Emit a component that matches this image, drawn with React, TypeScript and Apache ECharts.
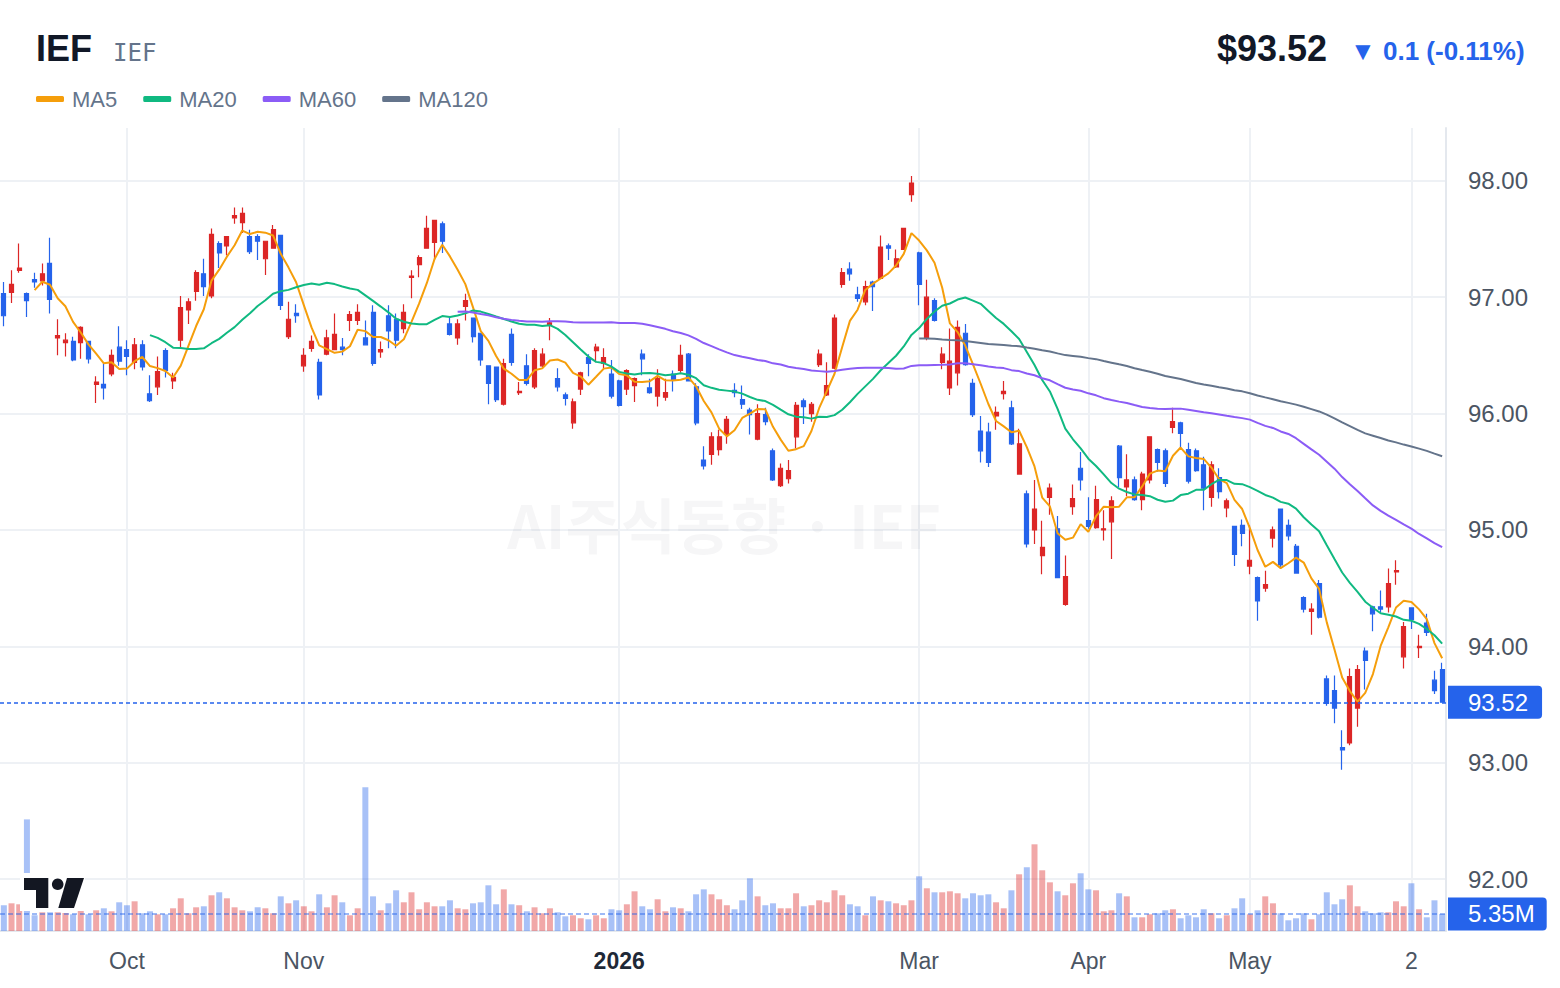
import { useEffect, useRef } from 'react';
import * as echarts from 'echarts';

// ---------- data ----------
const START_DATE = '2025-09-09';
const HOLIDAYS = ['2025-11-27', '2025-12-25', '2026-01-01', '2026-01-19', '2026-02-16', '2026-04-03', '2026-05-25'];

const opens = [
  97.03, 97.04, 97.23, 97.03, 97.15, 97.14, 97.29, 96.65, 96.61, 96.62,
  96.61, 96.62, 96.25, 96.25, 96.34, 96.57, 96.55, 96.44, 96.59, 96.17,
  96.23, 96.54, 96.28, 96.63, 96.89, 97.05, 97.2, 97.01, 97.46, 97.44,
  97.68, 97.64, 97.52, 97.52, 97.33, 97.42, 97.53, 96.66, 96.86, 96.41,
  96.56, 96.44, 96.51, 96.55, 96.57, 96.8, 96.8, 96.65, 96.87, 96.53,
  96.84, 96.81, 96.73, 97.17, 97.28, 97.42, 97.47, 97.63, 96.77, 96.65,
  96.92, 96.82, 96.69, 96.41, 96.4, 96.08, 96.68, 96.18, 96.41, 96.23,
  96.41, 96.76, 96.3, 96.16, 95.92, 96.21, 96.48, 96.54, 96.43, 96.34,
  96.28, 96.21, 96.24, 96.51, 96.22, 96.15, 96.14, 96.34, 96.37, 96.51,
  96.23, 95.6, 95.65, 95.69, 95.82, 96.2, 96.12, 96.03, 95.78, 95.99,
  95.68, 95.38, 95.44, 95.8, 96.11, 96.0, 96.42, 96.16, 96.39, 97.11,
  97.24, 97.02, 96.96, 97.13, 97.16, 97.44, 97.26, 97.41, 97.88, 97.38,
  96.65, 96.97, 96.44, 96.22, 96.35, 96.69, 96.26, 95.85, 95.84, 95.98,
  96.17, 96.05, 95.48, 95.31, 95.0, 94.78, 95.28, 95.01, 94.36, 95.2,
  95.53, 95.08, 95.02, 95.0, 95.07, 95.72, 95.37, 95.43, 95.26, 95.43,
  95.69, 95.68, 95.88, 95.92, 95.69, 95.68, 95.56, 95.28, 95.45, 95.19,
  95.03, 95.04, 94.69, 94.59, 94.5, 94.93, 95.18, 95.04, 94.86, 94.42,
  94.3, 94.54, 93.72, 93.62, 93.13, 93.17, 93.47, 93.96, 94.34, 94.34,
  94.34, 94.64, 93.91, 94.33, 93.99, 94.2, 93.71, 93.8,
];
const highs = [
  97.13, 97.23, 97.46, 97.04, 97.21, 97.29, 97.51, 96.81, 96.69, 96.66,
  96.75, 96.62, 96.32, 96.43, 96.55, 96.75, 96.63, 96.65, 96.63, 96.33,
  96.49, 96.56, 96.35, 97.01, 96.99, 97.23, 97.33, 97.59, 97.48, 97.52,
  97.77, 97.77, 97.58, 97.54, 97.48, 97.62, 97.53, 96.96, 96.94, 96.56,
  96.67, 96.47, 96.72, 96.86, 96.65, 96.88, 96.94, 96.8, 96.93, 96.62,
  96.93, 96.86, 96.94, 97.23, 97.36, 97.7, 97.66, 97.65, 96.83, 96.81,
  97.03, 96.82, 96.69, 96.41, 96.4, 96.47, 96.73, 96.27, 96.51, 96.56,
  96.56, 96.82, 96.39, 96.18, 96.13, 96.36, 96.51, 96.6, 96.56, 96.46,
  96.29, 96.38, 96.31, 96.55, 96.3, 96.38, 96.3, 96.37, 96.59, 96.52,
  96.26, 95.72, 95.84, 95.86, 95.98, 96.26, 96.24, 96.05, 96.08, 96.05,
  95.7, 95.57, 95.6, 96.1, 96.13, 96.1, 96.55, 96.44, 96.85, 97.25,
  97.3, 97.09, 97.14, 97.14, 97.53, 97.46, 97.41, 97.59, 98.04, 97.39,
  97.15, 96.99, 96.57, 96.73, 96.8, 96.77, 96.3, 95.98, 95.92, 96.06,
  96.28, 96.11, 95.87, 95.34, 95.43, 95.08, 95.4, 95.12, 94.78, 95.39,
  95.67, 95.28, 95.38, 95.17, 95.29, 95.73, 95.65, 95.46, 95.5, 95.8,
  95.7, 95.7, 96.05, 95.93, 95.75, 95.7, 95.63, 95.59, 95.53, 95.27,
  95.03, 95.09, 95.04, 94.6, 94.65, 95.03, 95.18, 95.09, 94.88, 94.43,
  94.37, 94.57, 93.75, 93.75, 93.28, 93.81, 93.84, 93.99, 94.35, 94.48,
  94.67, 94.74, 94.21, 94.33, 94.1, 94.28, 93.79, 93.86,
];
const lows = [
  96.75, 96.95, 97.21, 96.83, 97.08, 97.1, 96.86, 96.5, 96.49, 96.45,
  96.47, 96.43, 96.09, 96.12, 96.32, 96.41, 96.33, 96.38, 96.37, 96.1,
  96.16, 96.31, 96.21, 96.56, 96.77, 96.97, 97.01, 96.99, 97.25, 97.36,
  97.63, 97.55, 97.37, 97.32, 97.19, 97.42, 96.89, 96.64, 96.78, 96.36,
  96.53, 96.12, 96.5, 96.55, 96.5, 96.71, 96.76, 96.59, 96.41, 96.48,
  96.56, 96.56, 96.69, 96.99, 97.17, 97.42, 97.32, 97.38, 96.67, 96.59,
  96.8, 96.61, 96.41, 96.08, 96.1, 96.07, 96.41, 96.16, 96.24, 96.21,
  96.39, 96.63, 96.19, 96.07, 95.87, 96.16, 96.32, 96.44, 96.39, 96.13,
  96.06, 96.16, 96.1, 96.33, 96.17, 96.06, 96.11, 96.19, 96.35, 96.28,
  95.9, 95.52, 95.56, 95.64, 95.74, 96.14, 96.04, 95.82, 95.77, 95.9,
  95.42, 95.37, 95.4, 95.7, 95.91, 95.93, 96.4, 96.15, 96.38, 97.08,
  97.14, 96.96, 96.93, 96.88, 97.16, 97.32, 97.25, 97.41, 97.82, 96.93,
  96.63, 96.79, 96.38, 96.16, 96.24, 96.41, 95.97, 95.58, 95.54, 95.86,
  96.12, 95.73, 95.48, 94.85, 94.88, 94.62, 95.13, 94.59, 94.35, 95.13,
  95.34, 95.01, 95.01, 94.91, 94.75, 95.37, 95.29, 95.25, 95.17, 95.4,
  95.5, 95.37, 95.83, 95.7, 95.4, 95.5, 95.17, 95.2, 95.27, 95.11,
  94.69, 94.86, 94.62, 94.22, 94.47, 94.85, 94.68, 94.91, 94.63, 94.29,
  94.1, 94.24, 93.49, 93.34, 92.94, 93.15, 93.31, 93.63, 94.13, 94.29,
  94.29, 94.53, 93.81, 94.15, 93.9, 94.09, 93.59, 93.52,
];
const closes = [
  96.84, 97.11, 97.25, 96.97, 97.13, 97.2, 96.98, 96.67, 96.63, 96.46,
  96.74, 96.47, 96.27, 96.22, 96.5, 96.45, 96.49, 96.59, 96.4, 96.11,
  96.36, 96.37, 96.31, 96.91, 96.96, 97.21, 97.09, 97.54, 97.38, 97.52,
  97.7, 97.72, 97.39, 97.48, 97.48, 97.58, 96.93, 96.81, 96.84, 96.5,
  96.62, 96.16, 96.65, 96.68, 96.55, 96.85, 96.87, 96.59, 96.43, 96.55,
  96.71, 96.63, 96.87, 97.18, 97.34, 97.59, 97.66, 97.48, 96.68, 96.77,
  96.97, 96.66, 96.46, 96.26, 96.12, 96.43, 96.44, 96.19, 96.26, 96.54,
  96.51, 96.78, 96.23, 96.13, 96.1, 96.35, 96.43, 96.57, 96.48, 96.15,
  96.07, 96.37, 96.3, 96.47, 96.18, 96.3, 96.18, 96.29, 96.5, 96.28,
  95.92, 95.55, 95.8, 95.8, 95.95, 96.18, 96.08, 95.99, 96.0, 95.93,
  95.43, 95.53, 95.51, 96.07, 96.06, 96.08, 96.51, 96.24, 96.82, 97.21,
  97.2, 96.99, 97.09, 97.09, 97.43, 97.42, 97.33, 97.59, 97.98, 97.11,
  97.0, 96.8, 96.51, 96.45, 96.74, 96.42, 95.99, 95.68, 95.58, 96.01,
  96.19, 95.74, 95.74, 94.88, 95.18, 94.85, 95.36, 94.59, 94.6, 95.27,
  95.43, 95.03, 95.26, 95.01, 95.25, 95.45, 95.43, 95.26, 95.48, 95.8,
  95.58, 95.4, 95.93, 95.83, 95.42, 95.51, 95.36, 95.56, 95.33, 95.25,
  94.79, 94.97, 94.74, 94.39, 94.53, 95.0, 94.7, 94.95, 94.63, 94.32,
  94.32, 94.25, 93.51, 93.47, 93.11, 93.74, 93.8, 93.88, 94.28, 94.32,
  94.54, 94.65, 94.17, 94.23, 94.0, 94.12, 93.62, 93.52,
];
// volume in millions of shares
const volumes = [
  8.1, 8.71, 8.4, 35.1, 4.94, 5.88, 5.88, 5.88, 5.67, 5.25,
  7.14, 5.25, 6.51, 7.14, 6.2, 9.03, 8.1, 9.34, 5.57, 6.2,
  5.25, 5.25, 7.14, 10.28, 5.57, 7.45, 7.77, 11.23, 12.17, 10.28,
  7.45, 6.51, 6.2, 7.45, 7.14, 5.57, 10.9, 8.71, 9.65, 7.77,
  6.2, 11.54, 7.45, 11.23, 9.03, 4.94, 7.14, 45.19, 10.9, 6.51,
  8.71, 12.8, 9.03, 12.17, 6.83, 9.03, 7.77, 7.77, 9.65, 7.14,
  6.83, 8.71, 9.03, 14.37, 8.4, 13.1, 8.4, 8.1, 6.2, 7.45,
  5.57, 7.14, 5.88, 4.62, 4.94, 4.0, 3.68, 4.94, 4.0, 6.83,
  6.51, 8.4, 12.48, 7.77, 6.83, 9.97, 6.2, 7.45, 7.14, 6.2,
  11.54, 13.1, 11.54, 9.97, 8.1, 6.83, 9.65, 16.57, 10.9, 8.1,
  8.71, 7.14, 7.14, 11.86, 7.77, 8.1, 9.65, 9.03, 12.8, 11.23,
  8.4, 7.77, 4.94, 10.9, 9.65, 9.34, 8.71, 8.1, 9.65, 17.2,
  13.43, 12.17, 12.17, 12.48, 11.86, 10.28, 11.86, 11.23, 11.54, 9.03,
  7.14, 12.8, 17.83, 20.03, 27.26, 19.09, 15.31, 12.48, 11.23, 15.0,
  18.15, 13.1, 12.8, 6.2, 6.51, 11.86, 10.9, 4.31, 4.31, 5.25,
  5.57, 6.51, 6.83, 4.0, 4.94, 4.31, 6.83, 5.57, 4.0, 4.94,
  7.14, 10.28, 5.25, 6.51, 10.9, 8.71, 5.57, 3.37, 4.0, 5.57,
  3.68, 5.25, 12.17, 8.4, 9.97, 14.37, 7.77, 6.2, 5.57, 5.88,
  5.88, 9.34, 7.77, 15.0, 6.83, 4.31, 9.65, 5.35,
];

const tickDates = ['2025-10-01', '2025-11-03', '2026-01-02', '2026-03-02', '2026-04-01', '2026-05-01', '2026-06-02'];
const tickLabels = ['Oct', 'Nov', '2026', 'Mar', 'Apr', 'May', '2'];
const priceTicks = [92, 93, 94, 95, 96, 97, 98];
const maPeriods = [5, 20, 60, 120];
const maNames = ['MA5', 'MA20', 'MA60', 'MA120'];
const maColors = ['#f59e0b', '#10b981', '#8b5cf6', '#64748b'];
const lastPrice = 93.52;
const lastVolume = 5.35;
const prevClose = 93.62;

// ---------- helpers ----------
function tradingDays(start: string, n: number, holidays: string[]) {
  const out: string[] = [];
  const d = new Date(start + 'T00:00:00Z');
  while (out.length < n) {
    const dow = d.getUTCDay();
    const s = d.toISOString().slice(0, 10);
    if (dow !== 0 && dow !== 6 && holidays.indexOf(s) < 0) out.push(s);
    d.setUTCDate(d.getUTCDate() + 1);
  }
  return out;
}

function movingAverage(n: number) {
  return closes.map((_, i) => {
    if (i < n - 1) return '-';
    let s = 0;
    for (let k = i - n + 1; k <= i; k++) s += closes[k];
    return +(s / n).toFixed(4);
  });
}

const UP = '#dc2626';
const DOWN = '#2563eb';
const FONT = '"Liberation Sans", Arial, Helvetica, sans-serif';

export default function App() {
  const ref = useRef<HTMLDivElement>(null);

  useEffect(() => {
    if (!ref.current) return;
    const chart = echarts.init(ref.current, undefined, { renderer: 'svg' });
    const dates = tradingDays(START_DATE, closes.length, HOLIDAYS);
    const labelAt = new Map<string, string>();
    tickDates.forEach((d, i) => labelAt.set(d, tickLabels[i]));
    const tickIndices = tickDates.map((d) => dates.indexOf(d)).filter((i) => i >= 0);

    const change = lastPrice - prevClose;
    const pct = (change / prevClose) * 100;
    const changeText = `${change < 0 ? '▼' : '▲'} ${Math.abs(change).toFixed(1)} (${pct.toFixed(2)}%)`;

    const gridLeft = -2.05;
    const gridRight = 114;
    const gridBottom = 57;
    const volHeight = 160;

    const option: any = {
      animation: false,
      backgroundColor: '#ffffff',
      textStyle: { fontFamily: FONT },
      legend: {
        data: maNames,
        left: 36,
        top: 88,
        padding: 0,
        icon: 'roundRect',
        itemWidth: 28,
        itemHeight: 6,
        itemGap: 26,
        selectedMode: false,
        textStyle: { fontSize: 22, color: '#64748b', padding: [0, 0, 0, 3] },
      },
      grid: [
        { left: gridLeft, right: gridRight, top: 128, bottom: gridBottom },
        { left: gridLeft, right: gridRight, bottom: gridBottom, height: volHeight },
      ],
      xAxis: [
        {
          type: 'category',
          gridIndex: 0,
          data: dates,
          boundaryGap: true,
          axisLine: { show: false },
          axisTick: { show: false },
          axisLabel: { show: false },
          splitLine: { show: false },
        },
        {
          type: 'category',
          gridIndex: 1,
          data: dates,
          boundaryGap: true,
          axisLine: { show: true, onZero: false, lineStyle: { color: '#e4e8ee', width: 2 } },
          axisTick: { show: false },
          splitLine: { show: false },
          axisLabel: {
            interval: (_i: number, v: string) => labelAt.has(v),
            formatter: (v: string) => {
              const l = labelAt.get(v) || '';
              return l === '2026' ? '{b|2026}' : l;
            },
            margin: 18,
            fontSize: 23,
            color: '#4b5563',
            fontFamily: FONT,
            rich: { b: { fontWeight: 'bold', fontSize: 23, color: '#1f2937', fontFamily: FONT } },
          },
        },
        {
          // index-valued axis used only for the vertical grid lines at candle centres
          type: 'value',
          gridIndex: 0,
          min: -0.5,
          max: closes.length - 0.5,
          axisLine: { show: false, onZero: false },
          axisTick: { show: false, customValues: tickIndices },
          axisLabel: { show: false, customValues: tickIndices },
          splitLine: { show: true, lineStyle: { color: '#eef1f5', width: 2 } },
        },
      ],
      yAxis: [
        {
          type: 'value',
          gridIndex: 0,
          position: 'right',
          min: 91.555,
          max: 98.453,
          scale: true,
          axisLine: { show: true, onZero: false, lineStyle: { color: '#e4e8ee', width: 2 } },
          axisTick: { show: false, customValues: priceTicks },
          axisLabel: {
            customValues: priceTicks,
            formatter: (v: number) => v.toFixed(2),
            margin: 22,
            fontSize: 24,
            color: '#4b5563',
            fontFamily: FONT,
          },
          splitLine: { show: true, lineStyle: { color: '#eef1f5', width: 2 } },
        },
        {
          type: 'value',
          gridIndex: 1,
          min: 0,
          max: volHeight / 3.18,
          show: false,
          splitLine: { show: false },
        },
      ],
      series: [
        {
          type: 'bar',
          name: 'Volume',
          xAxisIndex: 1,
          yAxisIndex: 1,
          barWidth: 6,
          z: 1,
          silent: true,
          data: volumes.map((v, i) => ({
            value: v,
            itemStyle: { color: closes[i] >= opens[i] ? 'rgba(220,38,38,0.4)' : 'rgba(37,99,235,0.4)' },
          })),
          markLine: {
            silent: true,
            symbol: ['none', 'none'],
            lineStyle: { color: 'rgba(37,99,235,0.45)', type: [5, 3], width: 2 },
            label: {
              show: true,
              position: 'end',
              distance: 2,
              formatter: () => `${lastVolume.toFixed(2)}M`,
              color: '#ffffff',
              fontSize: 24,
              fontFamily: FONT,
              backgroundColor: '#2563eb',
              padding: [5, 12, 4, 20],
              borderRadius: [0, 4, 4, 0],
            },
            data: [{ yAxis: lastVolume }],
          },
        },
        {
          type: 'candlestick',
          name: 'IEF',
          xAxisIndex: 0,
          yAxisIndex: 0,
          barWidth: 4.5,
          z: 3,
          silent: true,
          data: opens.map((o, i) => [o, closes[i], lows[i], highs[i]]),
          itemStyle: {
            color: UP,
            color0: DOWN,
            borderColor: UP,
            borderColor0: DOWN,
            borderWidth: 1.2,
          },
          markLine: {
            silent: true,
            symbol: ['none', 'none'],
            lineStyle: { color: '#2563eb', type: [4, 3], width: 1.5 },
            label: {
              show: true,
              position: 'end',
              distance: 2,
              formatter: () => lastPrice.toFixed(2),
              color: '#ffffff',
              fontSize: 24,
              fontFamily: FONT,
              backgroundColor: '#2563eb',
              padding: [5, 14, 4, 20],
              borderRadius: [0, 4, 4, 0],
            },
            data: [{ yAxis: lastPrice }],
          },
        },
        ...maPeriods.map((p, k) => ({
          type: 'line',
          name: maNames[k],
          xAxisIndex: 0,
          yAxisIndex: 0,
          data: movingAverage(p),
          showSymbol: false,
          symbol: 'none',
          silent: true,
          z: 4,
          lineStyle: { color: maColors[k], width: 2 },
          itemStyle: { color: maColors[k] },
        })),
      ],
      graphic: [
        {
          type: 'text',
          z: 1,
          silent: true,
          style: {
            text: 'AI주식동향 · IEF',
            x: 724,
            y: 522,
            align: 'center',
            verticalAlign: 'middle',
            fontSize: 60,
            fontWeight: 'bold',
            fontFamily: '"Noto Sans CJK KR", "Liberation Sans", sans-serif',
            fill: 'rgba(15,23,42,0.04)',
          },
        },
        {
          type: 'text',
          z: 10,
          style: {
            text: 'IEF',
            x: 36,
            y: 48,
            verticalAlign: 'middle',
            fontSize: 36,
            fontWeight: 'bold',
            fontFamily: FONT,
            fill: '#111827',
          },
        },
        {
          type: 'text',
          z: 10,
          style: {
            text: 'IEF',
            x: 113,
            y: 53,
            verticalAlign: 'middle',
            fontSize: 24,
            fontFamily: '"DejaVu Sans Mono", "Liberation Mono", monospace',
            fill: '#64748b',
          },
        },
        {
          type: 'text',
          z: 10,
          style: {
            text: `$${lastPrice.toFixed(2)}`,
            x: 1327,
            y: 48,
            align: 'right',
            verticalAlign: 'middle',
            fontSize: 36,
            fontWeight: 'bold',
            fontFamily: FONT,
            fill: '#111827',
          },
        },
        {
          type: 'text',
          z: 10,
          style: {
            text: changeText,
            x: 1350,
            y: 51,
            verticalAlign: 'middle',
            fontSize: 26,
            fontWeight: 'bold',
            fontFamily: FONT,
            fill: '#2563eb',
          },
        },
        {
          type: 'group',
          z: 20,
          children: [
            { type: 'rect', z: 20, shape: { x: 20, y: 873, width: 65, height: 38 }, style: { fill: '#ffffff' } },
            {
              type: 'polygon',
              z: 21,
              shape: { points: [[24, 878], [48.3, 878], [48.3, 908], [36, 908], [36, 890], [24, 890]] },
              style: { fill: '#131722' },
            },
            { type: 'circle', z: 21, shape: { cx: 57.7, cy: 884.3, r: 5.8 }, style: { fill: '#131722' } },
            {
              type: 'polygon',
              z: 21,
              shape: { points: [[67, 878], [84, 878], [74, 908], [58.3, 908]] },
              style: { fill: '#131722' },
            },
          ],
        },
      ],
    };

    chart.setOption(option);
    return () => chart.dispose();
  }, []);

  return (
    <div
      ref={ref}
      style={{ position: 'fixed', left: 0, top: 0, width: 1560, height: 988, background: '#ffffff' }}
    />
  );
}
